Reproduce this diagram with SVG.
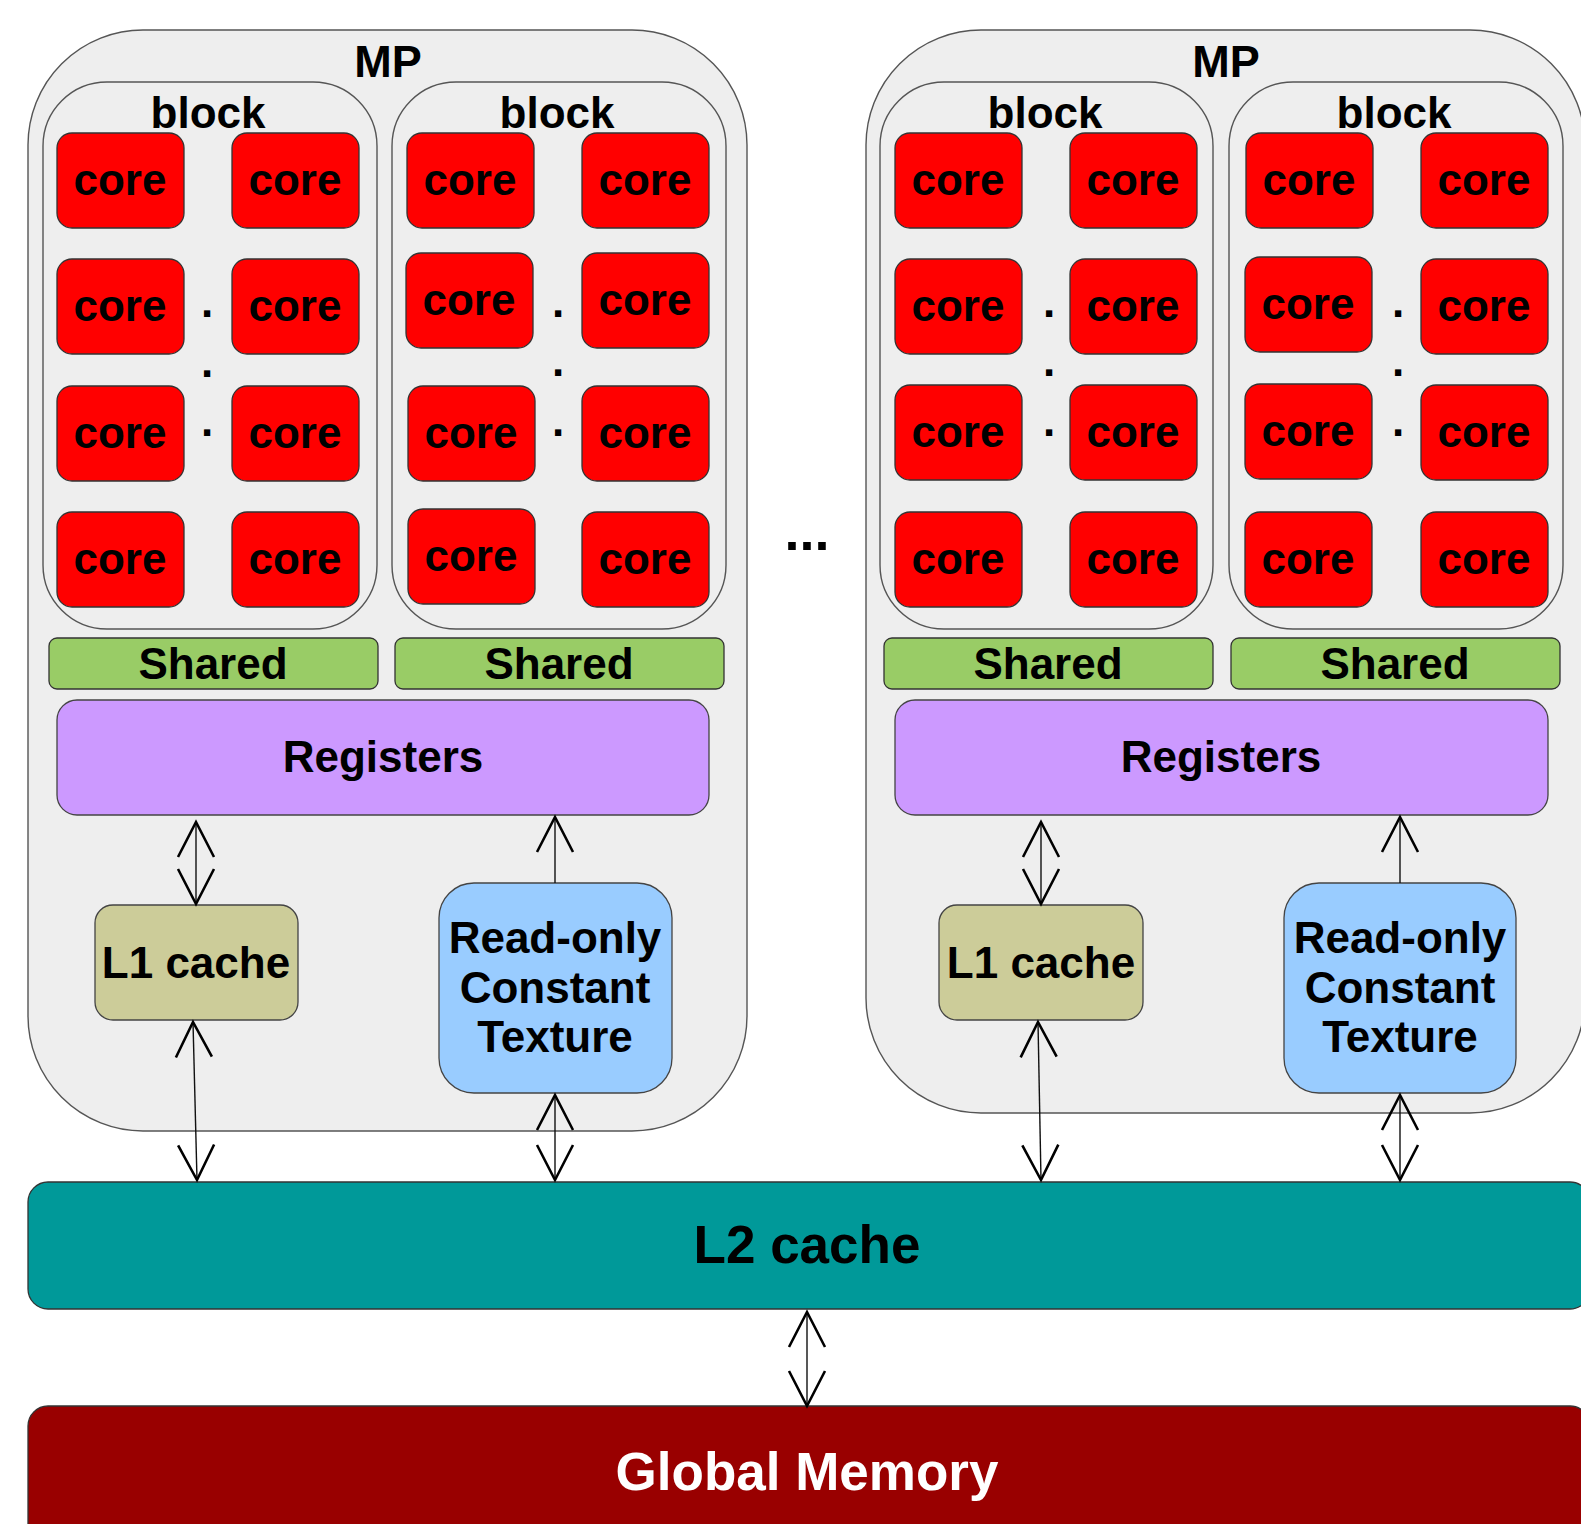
<svg xmlns="http://www.w3.org/2000/svg" width="1581" height="1524" viewBox="0 0 1581 1524">
<style>
text{font-family:"Liberation Sans",Arial,sans-serif;font-weight:bold;fill:#000;text-anchor:middle}
.mp{fill:#eeeeee;stroke:#555;stroke-width:1.4}
.blk{fill:#eeeeee;stroke:#555;stroke-width:1.4}
.core{fill:#ff0000;stroke:#333;stroke-width:1.3}
.sh{fill:#99cc66;stroke:#333;stroke-width:1.3}
.reg{fill:#cc99ff;stroke:#444;stroke-width:1.3}
.l1{fill:#cccc99;stroke:#444;stroke-width:1.3}
.ro{fill:#99ccff;stroke:#444;stroke-width:1.3}
.l2{fill:#009999;stroke:#333;stroke-width:1.3}
.gm{fill:#990000;stroke:#333;stroke-width:1.3}
.t43{font-size:44px}
.conn{fill:none;stroke:#111;stroke-width:1.4}
</style>
<defs>
<marker id="ah" markerUnits="userSpaceOnUse" viewBox="0 0 36 38" refX="35" refY="19" markerWidth="36" markerHeight="38" orient="auto-start-reverse" overflow="visible">
<path d="M0,1 L35,19 L0,37" fill="none" stroke="#000" stroke-width="2.6"/>
</marker>
</defs>
<rect width="1581" height="1524" fill="#fff"/>

<g id="mp1">
<rect class="mp" x="28" y="30" width="719" height="1101" rx="115" ry="115"/>
<text class="t43" x="388" y="77" style="font-size:45px">MP</text>
</g>
<g id="mp2">
<rect class="mp" x="866" y="30" width="719" height="1083" rx="115" ry="115"/>
<text class="t43" x="1226" y="77" style="font-size:45px">MP</text>
</g>

<g id="block1">
<rect class="blk" x="43" y="82" width="334" height="547" rx="64" ry="64"/>
<text class="t43" x="208" y="128">block</text>
</g>
<g id="block2">
<rect class="blk" x="392" y="82" width="334" height="547" rx="64" ry="64"/>
<text class="t43" x="557" y="128">block</text>
</g>
<g id="block3">
<rect class="blk" x="880" y="82" width="333" height="547" rx="64" ry="64"/>
<text class="t43" x="1045" y="128">block</text>
</g>
<g id="block4">
<rect class="blk" x="1229" y="82" width="334" height="547" rx="64" ry="64"/>
<text class="t43" x="1394" y="128">block</text>
</g>

<g id="cores-b1">
<g id="c1-1"><rect class="core" x="57" y="133" width="127" height="95" rx="15"/><text class="t43" x="120" y="195">core</text></g>
<g id="c1-2"><rect class="core" x="232" y="133" width="127" height="95" rx="15"/><text class="t43" x="295" y="195">core</text></g>
<g id="c1-3"><rect class="core" x="57" y="259" width="127" height="95" rx="15"/><text class="t43" x="120" y="321">core</text></g>
<g id="c1-4"><rect class="core" x="232" y="259" width="127" height="95" rx="15"/><text class="t43" x="295" y="321">core</text></g>
<g id="c1-5"><rect class="core" x="57" y="386" width="127" height="95" rx="15"/><text class="t43" x="120" y="448">core</text></g>
<g id="c1-6"><rect class="core" x="232" y="386" width="127" height="95" rx="15"/><text class="t43" x="295" y="448">core</text></g>
<g id="c1-7"><rect class="core" x="57" y="512" width="127" height="95" rx="15"/><text class="t43" x="120" y="574">core</text></g>
<g id="c1-8"><rect class="core" x="232" y="512" width="127" height="95" rx="15"/><text class="t43" x="295" y="574">core</text></g>
<text class="t43" x="207" y="317">.</text><text class="t43" x="207" y="377">.</text><text class="t43" x="207" y="436">.</text>
</g>
<g id="cores-b2">
<g id="c2-1"><rect class="core" x="407" y="133" width="127" height="95" rx="15"/><text class="t43" x="470" y="195">core</text></g>
<g id="c2-2"><rect class="core" x="582" y="133" width="127" height="95" rx="15"/><text class="t43" x="645" y="195">core</text></g>
<g id="c2-3"><rect class="core" x="406" y="253" width="127" height="95" rx="15"/><text class="t43" x="469" y="315">core</text></g>
<g id="c2-4"><rect class="core" x="582" y="253" width="127" height="95" rx="15"/><text class="t43" x="645" y="315">core</text></g>
<g id="c2-5"><rect class="core" x="408" y="386" width="127" height="95" rx="15"/><text class="t43" x="471" y="448">core</text></g>
<g id="c2-6"><rect class="core" x="582" y="386" width="127" height="95" rx="15"/><text class="t43" x="645" y="448">core</text></g>
<g id="c2-7"><rect class="core" x="408" y="509" width="127" height="95" rx="15"/><text class="t43" x="471" y="571">core</text></g>
<g id="c2-8"><rect class="core" x="582" y="512" width="127" height="95" rx="15"/><text class="t43" x="645" y="574">core</text></g>
<text class="t43" x="558" y="317">.</text><text class="t43" x="558" y="376">.</text><text class="t43" x="558" y="436">.</text>
</g>
<g id="cores-b3">
<g id="c3-1"><rect class="core" x="895" y="133" width="127" height="95" rx="15"/><text class="t43" x="958" y="195">core</text></g>
<g id="c3-2"><rect class="core" x="1070" y="133" width="127" height="95" rx="15"/><text class="t43" x="1133" y="195">core</text></g>
<g id="c3-3"><rect class="core" x="895" y="259" width="127" height="95" rx="15"/><text class="t43" x="958" y="321">core</text></g>
<g id="c3-4"><rect class="core" x="1070" y="259" width="127" height="95" rx="15"/><text class="t43" x="1133" y="321">core</text></g>
<g id="c3-5"><rect class="core" x="895" y="385" width="127" height="95" rx="15"/><text class="t43" x="958" y="447">core</text></g>
<g id="c3-6"><rect class="core" x="1070" y="385" width="127" height="95" rx="15"/><text class="t43" x="1133" y="447">core</text></g>
<g id="c3-7"><rect class="core" x="895" y="512" width="127" height="95" rx="15"/><text class="t43" x="958" y="574">core</text></g>
<g id="c3-8"><rect class="core" x="1070" y="512" width="127" height="95" rx="15"/><text class="t43" x="1133" y="574">core</text></g>
<text class="t43" x="1049" y="317">.</text><text class="t43" x="1049" y="376">.</text><text class="t43" x="1049" y="436">.</text>
</g>
<g id="cores-b4">
<g id="c4-1"><rect class="core" x="1246" y="133" width="127" height="95" rx="15"/><text class="t43" x="1309" y="195">core</text></g>
<g id="c4-2"><rect class="core" x="1421" y="133" width="127" height="95" rx="15"/><text class="t43" x="1484" y="195">core</text></g>
<g id="c4-3"><rect class="core" x="1245" y="257" width="127" height="95" rx="15"/><text class="t43" x="1308" y="319">core</text></g>
<g id="c4-4"><rect class="core" x="1421" y="259" width="127" height="95" rx="15"/><text class="t43" x="1484" y="321">core</text></g>
<g id="c4-5"><rect class="core" x="1245" y="384" width="127" height="95" rx="15"/><text class="t43" x="1308" y="446">core</text></g>
<g id="c4-6"><rect class="core" x="1421" y="385" width="127" height="95" rx="15"/><text class="t43" x="1484" y="447">core</text></g>
<g id="c4-7"><rect class="core" x="1245" y="512" width="127" height="95" rx="15"/><text class="t43" x="1308" y="574">core</text></g>
<g id="c4-8"><rect class="core" x="1421" y="512" width="127" height="95" rx="15"/><text class="t43" x="1484" y="574">core</text></g>
<text class="t43" x="1398" y="317">.</text><text class="t43" x="1398" y="376">.</text><text class="t43" x="1398" y="436">.</text>
</g>

<g id="ellipsis"><text x="807" y="550" style="font-size:54px">...</text></g>

<g id="shared1"><rect class="sh" x="49" y="638" width="329" height="51" rx="8"/><text class="t43" x="213" y="679">Shared</text></g>
<g id="shared2"><rect class="sh" x="395" y="638" width="329" height="51" rx="8"/><text class="t43" x="559" y="679">Shared</text></g>
<g id="shared3"><rect class="sh" x="884" y="638" width="329" height="51" rx="8"/><text class="t43" x="1048" y="679">Shared</text></g>
<g id="shared4"><rect class="sh" x="1231" y="638" width="329" height="51" rx="8"/><text class="t43" x="1395" y="679">Shared</text></g>

<g id="registers1"><rect class="reg" x="57" y="700" width="652" height="115" rx="20"/><text class="t43" x="383" y="772">Registers</text></g>
<g id="registers2"><rect class="reg" x="895" y="700" width="653" height="115" rx="20"/><text class="t43" x="1221" y="772">Registers</text></g>

<g id="l1cache1"><rect class="l1" x="95" y="905" width="203" height="115" rx="18"/><text class="t43" x="196" y="978">L1 cache</text></g>
<g id="l1cache2"><rect class="l1" x="939" y="905" width="204" height="115" rx="18"/><text class="t43" x="1041" y="978">L1 cache</text></g>

<g id="readonly1"><rect class="ro" x="439" y="883" width="233" height="210" rx="35"/>
<text class="t43" x="555" y="953">Read-only</text><text class="t43" x="555" y="1003">Constant</text><text class="t43" x="555" y="1052">Texture</text></g>
<g id="readonly2"><rect class="ro" x="1284" y="883" width="232" height="210" rx="35"/>
<text class="t43" x="1400" y="953">Read-only</text><text class="t43" x="1400" y="1003">Constant</text><text class="t43" x="1400" y="1052">Texture</text></g>

<g id="l2cache"><rect class="l2" x="28" y="1182" width="1562" height="127" rx="20"/><text x="807" y="1263" style="font-size:53px">L2 cache</text></g>
<g id="globalmem"><rect class="gm" x="28" y="1406" width="1562" height="150" rx="20"/><text x="807" y="1490" style="font-size:53px;fill:#fff">Global Memory</text></g>

<g id="connectors">
<path class="conn" d="M196,822 L196,904" marker-start="url(#ah)" marker-end="url(#ah)"/>
<path class="conn" d="M555,883 L555,817" marker-end="url(#ah)"/>
<path class="conn" d="M193,1022 L197,1180" marker-start="url(#ah)" marker-end="url(#ah)"/>
<path class="conn" d="M555,1095 L555,1180" marker-start="url(#ah)" marker-end="url(#ah)"/>
<path class="conn" d="M1041,822 L1041,904" marker-start="url(#ah)" marker-end="url(#ah)"/>
<path class="conn" d="M1400,883 L1400,817" marker-end="url(#ah)"/>
<path class="conn" d="M1038,1022 L1041,1180" marker-start="url(#ah)" marker-end="url(#ah)"/>
<path class="conn" d="M1400,1095 L1400,1180" marker-start="url(#ah)" marker-end="url(#ah)"/>
<path class="conn" d="M807,1312 L807,1406" marker-start="url(#ah)" marker-end="url(#ah)"/>
</g>
</svg>
